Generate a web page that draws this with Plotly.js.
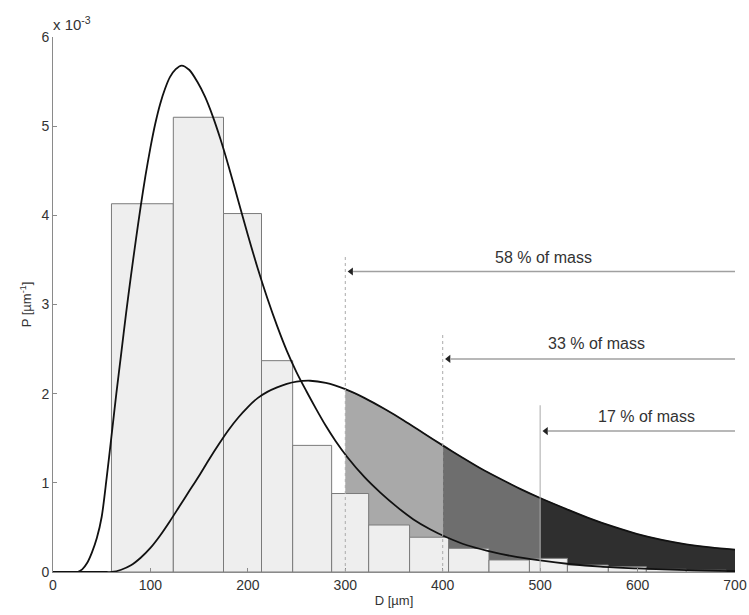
<!DOCTYPE html>
<html>
<head>
<meta charset="utf-8">
<script src="https://cdn.plot.ly/plotly-3.0.1.min.js"></script>
<style>html,body{margin:0;padding:0;background:#fff;}#chart{width:749px;height:615px;}</style>
</head>
<body>
<div id="chart"></div>
<script>
// Histogram (values in units of 1e-3 per µm)
const binEdges = [60, 123.5, 175, 214, 246, 286, 324, 366, 406, 447.5, 489, 528, 570, 609, 650, 691];
const binHeights = [4.13, 5.10, 4.02, 2.37, 1.42, 0.88, 0.527, 0.39, 0.266, 0.135, 0.153, 0.078, 0.06, 0.03, 0.02];

// Number distribution curve
const curve1X = [0, 20, 25, 30, 35, 40, 45, 50, 55, 60, 65, 70, 75, 80, 85, 90, 95, 100, 105, 110, 115, 120, 126, 132, 140, 148, 156, 164, 172, 180, 190, 200, 210, 220, 230, 240, 250, 260, 270, 280, 290, 302, 320, 336, 353, 370, 387, 404, 425, 445, 470, 500, 530, 562, 600, 650, 700];
const curve1Y = [0, 0, 0, 0.03, 0.1, 0.22, 0.38, 0.62, 1.05, 1.52, 2.0, 2.45, 2.9, 3.32, 3.72, 4.1, 4.45, 4.76, 5.03, 5.25, 5.42, 5.55, 5.64, 5.68, 5.63, 5.50, 5.33, 5.11, 4.85, 4.56, 4.17, 3.78, 3.41, 3.07, 2.76, 2.48, 2.24, 2.03, 1.83, 1.64, 1.47, 1.29, 1.06, 0.89, 0.73, 0.59, 0.48, 0.39, 0.30, 0.24, 0.18, 0.13, 0.09, 0.06, 0.04, 0.02, 0.01];

// Mass distribution curve
const curve2X = [0, 55, 60, 70, 80, 90, 100, 110, 120, 130, 140, 150, 160, 170, 180, 190, 200, 210, 220, 230, 240, 250, 264, 280, 300, 320, 340, 360, 380, 400, 420, 440, 460, 480, 500, 525, 550, 576, 600, 625, 650, 675, 700];
const curve2Y = [0, 0, 0, 0.025, 0.075, 0.16, 0.27, 0.41, 0.57, 0.74, 0.91, 1.08, 1.26, 1.43, 1.59, 1.73, 1.85, 1.95, 2.02, 2.07, 2.11, 2.135, 2.145, 2.12, 2.05, 1.95, 1.83, 1.70, 1.56, 1.42, 1.285, 1.155, 1.04, 0.93, 0.83, 0.715, 0.605, 0.505, 0.425, 0.36, 0.31, 0.275, 0.25];

// Mass fractions above thresholds
const thresholds = [300, 400, 500];
const massLabels = ['58 % of mass', '33 % of mass', '17 % of mass'];
const shadeColors = ['#a9a9a9', '#6e6e6e', '#2f2f2f'];
const xTicks = [0, 100, 200, 300, 400, 500, 600, 700];
const yTicks = [0, 1, 2, 3, 4, 5, 6];

const FONT = 'Liberation Sans, Arial, Helvetica, sans-serif';
const traces = [];

// shaded areas under mass curve (base subplot)
const bounds = thresholds.concat([700]);
for (let i = 0; i < thresholds.length; i++) {
  const a = bounds[i], b = bounds[i + 1];
  const xs = [], ys = [];
  curve2X.forEach((x, k) => { if (x >= a && x <= b) { xs.push(x); ys.push(curve2Y[k]); } });
  traces.push({
    type: 'scatter', mode: 'lines', x: xs, y: ys, fill: 'tozeroy',
    fillcolor: shadeColors[i], line: {width: 0.6, color: '#333', shape: 'spline', smoothing: 0.8},
    xaxis: 'x', yaxis: 'y', hoverinfo: 'skip', showlegend: false
  });
}

// histogram bars (overlay subplot, above shading)
const centers = [], widths = [];
for (let i = 0; i < binHeights.length; i++) {
  centers.push((binEdges[i] + binEdges[i + 1]) / 2);
  widths.push(binEdges[i + 1] - binEdges[i]);
}
traces.push({
  type: 'bar', x: centers, y: binHeights, width: widths,
  marker: {color: '#eeeeee', line: {color: '#7a7a7a', width: 1}},
  xaxis: 'x2', yaxis: 'y2', showlegend: false, hoverinfo: 'skip'
});

traces.push({type: 'scatter', mode: 'lines', x: curve1X, y: curve1Y, line: {color: '#111', width: 1.8, shape: 'spline', smoothing: 0.8}, xaxis: 'x2', yaxis: 'y2', showlegend: false});
traces.push({type: 'scatter', mode: 'lines', x: curve2X, y: curve2Y, line: {color: '#111', width: 1.8, shape: 'spline', smoothing: 0.8}, xaxis: 'x2', yaxis: 'y2', showlegend: false});

const lineTops = [3.54, 2.66, 1.87];
const arrowY = [3.37, 2.39, 1.58];
const labelPos = [[503, 3.53], [558, 2.56], [609, 1.74]];

// arrowheads
traces.push({
  type: 'scatter', mode: 'markers', x: thresholds.map(t => t + 6), y: arrowY,
  marker: {symbol: 'triangle-left', size: 7, color: '#222'},
  xaxis: 'x2', yaxis: 'y2', showlegend: false, hoverinfo: 'skip'
});

const shapes = [];
const annotations = [];
thresholds.forEach((t, i) => {
  shapes.push({type: 'line', xref: 'x', yref: 'y', x0: t, x1: t, y0: 0, y1: lineTops[i], line: {color: '#aaaaaa', width: 1, dash: i < 2 ? 'dot' : 'solid'}, layer: 'above'});
  shapes.push({type: 'line', xref: 'x', yref: 'y', x0: t + 8, x1: 700, y0: arrowY[i], y1: arrowY[i], line: {color: '#a0a0a0', width: 1.5}, layer: 'above'});
  annotations.push({x: labelPos[i][0], y: labelPos[i][1], xref: 'x', yref: 'y', text: massLabels[i], showarrow: false, font: {family: FONT, size: 16, color: '#333'}});
});
annotations.push({x: -0.003, y: 1.025, xref: 'paper', yref: 'paper', xanchor: 'left', yanchor: 'middle', text: 'x 10<sup>-3</sup>', showarrow: false, font: {family: FONT, size: 15, color: '#333'}});

const axisCommon = {
  showgrid: false, zeroline: false, showline: true, linecolor: '#8a8a8a', linewidth: 1,
  ticks: 'inside', ticklen: 4, tickcolor: '#8a8a8a', tickfont: {family: FONT, size: 14, color: '#333'}
};

const layout = {
  width: 749, height: 615,
  margin: {l: 53, r: 14, t: 37, b: 43},
  paper_bgcolor: '#fff', plot_bgcolor: '#fff',
  showlegend: false,
  xaxis: Object.assign({}, axisCommon, {range: [0, 700], tickvals: xTicks, ticktext: xTicks.map(String), title: {text: 'D [µm]', font: {family: FONT, size: 13, color: '#333'}, standoff: 4}}),
  yaxis: Object.assign({}, axisCommon, {range: [0, 6], tickvals: yTicks, ticktext: yTicks.map(String), title: {text: 'P [µm<sup>-1</sup>]', font: {family: FONT, size: 13, color: '#333'}, standoff: 6}}),
  xaxis2: {overlaying: 'x', anchor: 'y2', range: [0, 700], visible: false},
  yaxis2: {overlaying: 'y', anchor: 'x2', range: [0, 6], visible: false},
  bargap: 0,
  shapes: shapes,
  annotations: annotations
};

Plotly.newPlot('chart', traces, layout, {staticPlot: true, displayModeBar: false});
</script>
</body>
</html>
